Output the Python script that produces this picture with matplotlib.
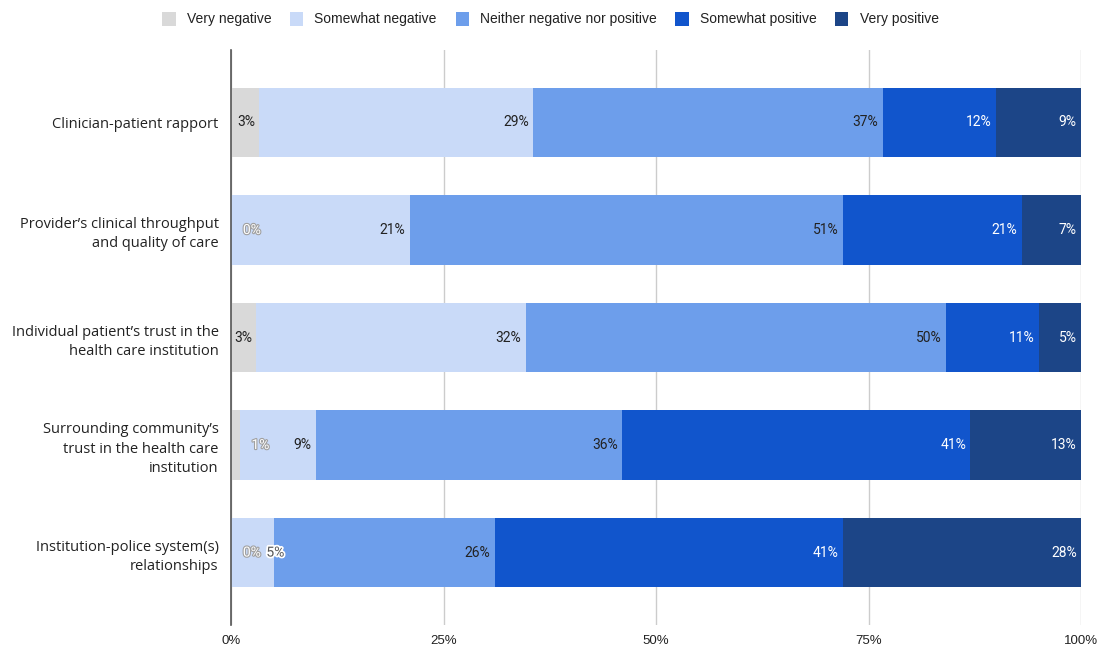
import matplotlib.pyplot as plt
import matplotlib.patheffects as pe
from matplotlib.patches import Patch
import numpy as np

plt.rcParams['font.family'] = ['Roboto', 'DejaVu Sans']

categories = [
    "Clinician-patient rapport",
    "Provider\u2019s clinical throughput\nand quality of care",
    "Individual patient\u2019s trust in the\nhealth care institution",
    "Surrounding community\u2019s\ntrust in the health care\ninstitution",
    "Institution-police system(s)\nrelationships",
]
series = ["Very negative", "Somewhat negative", "Neither negative nor positive",
          "Somewhat positive", "Very positive"]
very_negative = [3, 0, 3, 1, 0]
somewhat_negative = [29, 21, 32, 9, 5]
neither = [37, 51, 50, 36, 26]
somewhat_positive = [12, 21, 11, 41, 41]
very_positive = [9, 7, 5, 13, 28]

colors = ["#d9d9d9", "#c9daf8", "#6d9eeb", "#1155cc", "#1c4587"]
text_colors = ["#222222", "#222222", "#222222", "#ffffff", "#ffffff"]

data = np.array([very_negative, somewhat_negative, neither,
                 somewhat_positive, very_positive], dtype=float)
shares = data / data.sum(axis=0)

fig = plt.figure(figsize=(11.01, 6.47), dpi=100)
ax = fig.add_axes([231 / 1101, 1 - 625 / 647, 850 / 1101, 575 / 647])

y = np.arange(len(categories))
left = np.zeros(len(categories))
for i, name in enumerate(series):
    ax.barh(y, shares[i], left=left, height=0.65, color=colors[i],
            label=name, zorder=2)
    left += shares[i]

# value labels: right-aligned inside each segment; ones that don't fit
# are pushed to the right and drawn with a halo
char_w = 0.0078
for r in range(len(categories)):
    start = 0.0
    last_end = -1.0
    for i in range(len(series)):
        end = start + shares[i, r]
        txt = f"{int(data[i, r])}%"
        w = char_w * len(txt) + 0.006
        right_pos = end - 0.005
        if shares[i, r] < 0.02:
            x0 = max(end + 0.014, last_end + 0.006)
            ax.text(x0, r, txt, ha='left', va='center', fontsize=10,
                    color='white', zorder=4,
                    path_effects=[pe.withStroke(linewidth=1.6, foreground='#a0a0a0')])
            last_end = x0 + w
        elif right_pos - w < last_end + 0.006:
            x0 = last_end + 0.006
            ax.text(x0, r, txt, ha='left', va='center', fontsize=10,
                    color='#555555', zorder=4,
                    path_effects=[pe.withStroke(linewidth=2.5, foreground='white')])
            last_end = x0 + w
        else:
            ax.text(right_pos, r, txt, ha='right', va='center', fontsize=10,
                    color=text_colors[i], zorder=4)
            last_end = right_pos
        start = end

ax.set_xlim(0, 1)
ax.set_ylim(4.674, -0.674)
ax.set_yticks(y)
ax.set_yticklabels(categories, fontsize=10.5, color='#222222', linespacing=1.4,
                   family=['Open Sans', 'DejaVu Sans'])
ax.set_xticks([0, 0.25, 0.5, 0.75, 1.0])
ax.set_xticklabels(["0%", "25%", "50%", "75%", "100%"], fontsize=9.5, color='#222222',
                   family=['Liberation Sans', 'DejaVu Sans'])
ax.tick_params(axis='x', length=0, pad=7)
ax.tick_params(axis='y', length=0, pad=9)
ax.grid(axis='x', color='#cccccc', linewidth=1, zorder=0)
for s in ['top', 'right', 'bottom']:
    ax.spines[s].set_visible(False)
ax.spines['left'].set_color('#555555')
ax.spines['left'].set_linewidth(1.2)
ax.spines['left'].set_zorder(3)

handles = [Patch(facecolor=c, edgecolor='none') for c in colors]
fig.legend(handles, series, loc='center', bbox_to_anchor=(0.5, 1 - 19 / 647),
           ncol=5, frameon=False, handlelength=0.95, handleheight=1.2,
           handletextpad=0.8, columnspacing=1.35, labelcolor='#222222',
           prop={'family': ['Liberation Sans', 'DejaVu Sans'], 'size': 10})

fig.savefig("out.png", dpi=100)
